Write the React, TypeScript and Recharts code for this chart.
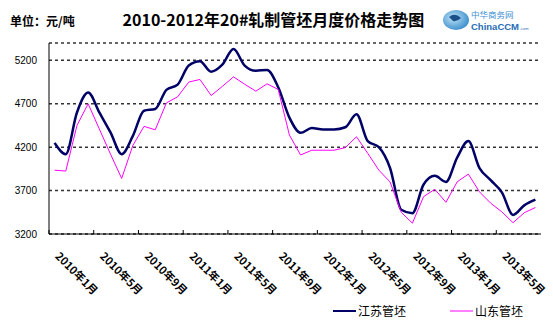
import { CartesianGrid, Legend, Line, LineChart, XAxis, YAxis } from "recharts";

const MONTHS = [
  "2010年1月", "2010年2月", "2010年3月", "2010年4月", "2010年5月", "2010年6月",
  "2010年7月", "2010年8月", "2010年9月", "2010年10月", "2010年11月", "2010年12月",
  "2011年1月", "2011年2月", "2011年3月", "2011年4月", "2011年5月", "2011年6月",
  "2011年7月", "2011年8月", "2011年9月", "2011年10月", "2011年11月", "2011年12月",
  "2012年1月", "2012年2月", "2012年3月", "2012年4月", "2012年5月", "2012年6月",
  "2012年7月", "2012年8月", "2012年9月", "2012年10月", "2012年11月", "2012年12月",
  "2013年1月", "2013年2月", "2013年3月", "2013年4月", "2013年5月", "2013年6月",
  "2013年7月", "2013年8月",
];

// 江苏管坯
const JIANGSU = [
  4250, 4120, 4600, 4830, 4600, 4370, 4120, 4330, 4620, 4640, 4860, 4920,
  5140, 5190, 5070, 5150, 5330, 5140, 5080, 5090, 4890, 4540, 4365, 4420,
  4405, 4405, 4430, 4580, 4270, 4200, 3960, 3480, 3440, 3770, 3870, 3800,
  4080, 4270, 3960, 3820, 3680, 3420, 3530, 3595,
];

// 山东管坯
const SHANDONG = [
  3935, 3925, 4450, 4700, 4410, 4120, 3840, 4220, 4440, 4400, 4710, 4780,
  4950, 4980, 4795, 4900, 5010, 4925, 4845, 4930, 4865, 4340, 4110, 4165,
  4165, 4165, 4195, 4320, 4130, 3935, 3800, 3450, 3325, 3630, 3715, 3565,
  3800, 3890, 3685, 3555, 3455, 3330, 3445, 3505,
];

const Y_TICKS = [3200, 3700, 4200, 4700, 5200];

const data = MONTHS.map((month, i) => ({
  month,
  jiangsu: JIANGSU[i],
  shandong: SHANDONG[i],
}));

const PLOT_LEFT = 49;
const PLOT_RIGHT = 541;
const HALF_BAND = (PLOT_RIGHT - PLOT_LEFT) / MONTHS.length / 2;

const CJK = '"Noto Sans CJK SC", "Noto Sans", sans-serif';

function MonthTick({ x, y, payload }: any) {
  const ty = y + 23;
  return (
    <g>
      <line
        x1={x - HALF_BAND}
        x2={x - HALF_BAND}
        y1={y}
        y2={y - 4}
        stroke="#000"
      />
      <text
        x={x}
        y={ty}
        transform={`rotate(45 ${x} ${ty})`}
        textAnchor="start"
        fontSize={11}
        fontWeight="bold"
        fontFamily={CJK}
        fill="#000"
      >
        {payload.value}
      </text>
    </g>
  );
}

function LegendItem({ color, width, label }: { color: string; width: number; label: string }) {
  return (
    <div style={{ display: "flex", alignItems: "center" }}>
      <svg width={24} height={18}>
        <line x1={0} x2={23} y1={9} y2={9} stroke={color} strokeWidth={width} />
      </svg>
      <span style={{ marginLeft: 1, fontSize: 12, fontFamily: CJK, color: "#000" }}>
        {label}
      </span>
    </div>
  );
}

function LegendContent() {
  return (
    <div style={{ display: "flex", gap: 44, lineHeight: "18px" }}>
      <LegendItem color="#000066" width={2} label="江苏管坯" />
      <LegendItem color="#ff00ff" width={1} label="山东管坯" />
    </div>
  );
}

function Logo() {
  return (
    <svg width={100} height={30} style={{ position: "absolute", left: 440, top: 5 }}>
      <defs>
        <radialGradient id="globe" cx="40%" cy="40%" r="70%">
          <stop offset="0%" stopColor="#bfe3f7" />
          <stop offset="100%" stopColor="#2f86c8" />
        </radialGradient>
      </defs>
      <ellipse cx={16} cy={15} rx={13} ry={10} fill="url(#globe)" />
      <path d="M9 12 q6 -5 12 1 q-4 4 -8 3 z" fill="#1b4f8a" />
      <text x={31} y={13} fontSize={8.5} fill="#3d8fd2" fontFamily={CJK}>
        中华商务网
      </text>
      <text x={31} y={25} fontSize={9.5} fontWeight="bold" fill="#1f6db5" fontFamily="Arial, sans-serif">
        ChinaCCM
      </text>
      <text x={80} y={25} fontSize={4} fill="#1f6db5" fontFamily="Arial, sans-serif">
        .com
      </text>
    </svg>
  );
}

export default function App() {
  return (
    <div
      style={{
        position: "absolute",
        left: 0,
        top: 0,
        width: 553,
        height: 325,
        background: "#fff",
      }}
    >
      <div
        style={{
          position: "absolute",
          left: 10,
          top: 13,
          fontSize: 12,
          fontWeight: "bold",
          fontFamily: CJK,
          lineHeight: "16px",
        }}
      >
        单位：元/吨
      </div>
      <div
        style={{
          position: "absolute",
          left: 0,
          top: 9,
          width: 547,
          textAlign: "center",
          fontSize: 16,
          fontWeight: "bold",
          fontFamily: CJK,
          lineHeight: "20px",
        }}
      >
        2010-2012年20#轧制管坯月度价格走势图
      </div>
      <Logo />
      <LineChart
        width={553}
        height={325}
        data={data}
        margin={{ top: 43, right: 553 - PLOT_RIGHT, bottom: 31, left: 0 }}
      >
        <CartesianGrid
          vertical={false}
          stroke="#333"
          strokeWidth={1.5}
          strokeDasharray="3 3"
        />
        <XAxis
          dataKey="month"
          interval={3}
          height={60}
          padding={{ left: HALF_BAND, right: HALF_BAND }}
          axisLine={{ stroke: "#000" }}
          tickLine={false}
          tickSize={0}
          tickMargin={0}
          tick={<MonthTick />}
        />
        <XAxis
          xAxisId="top"
          dataKey="month"
          orientation="top"
          height={0}
          axisLine={{ stroke: "#333" }}
          tick={false}
          tickLine={false}
        />
        <YAxis
          width={PLOT_LEFT}
          domain={[3200, 5400]}
          ticks={Y_TICKS}
          interval={0}
          axisLine={{ stroke: "#000" }}
          tickLine={false}
          tickSize={0}
          tickMargin={12}
          tick={{ fontSize: 10, fill: "#000", fontFamily: "Arial, 'Liberation Sans', sans-serif" }}
        />
        <YAxis
          yAxisId="right"
          orientation="right"
          width={0}
          domain={[3200, 5400]}
          axisLine={{ stroke: "#333" }}
          tick={false}
          tickLine={false}
        />
        <Legend
          layout="horizontal"
          verticalAlign="middle"
          align="center"
          content={<LegendContent />}
          wrapperStyle={{ left: 333, top: 302, width: 215, height: 18 }}
        />
        <Line
          type="monotone"
          dataKey="jiangsu"
          stroke="#000066"
          strokeWidth={2.5}
          dot={false}
          isAnimationActive={false}
        />
        <Line
          type="linear"
          dataKey="shandong"
          stroke="#ff00ff"
          strokeWidth={1}
          dot={false}
          isAnimationActive={false}
        />
      </LineChart>
    </div>
  );
}
